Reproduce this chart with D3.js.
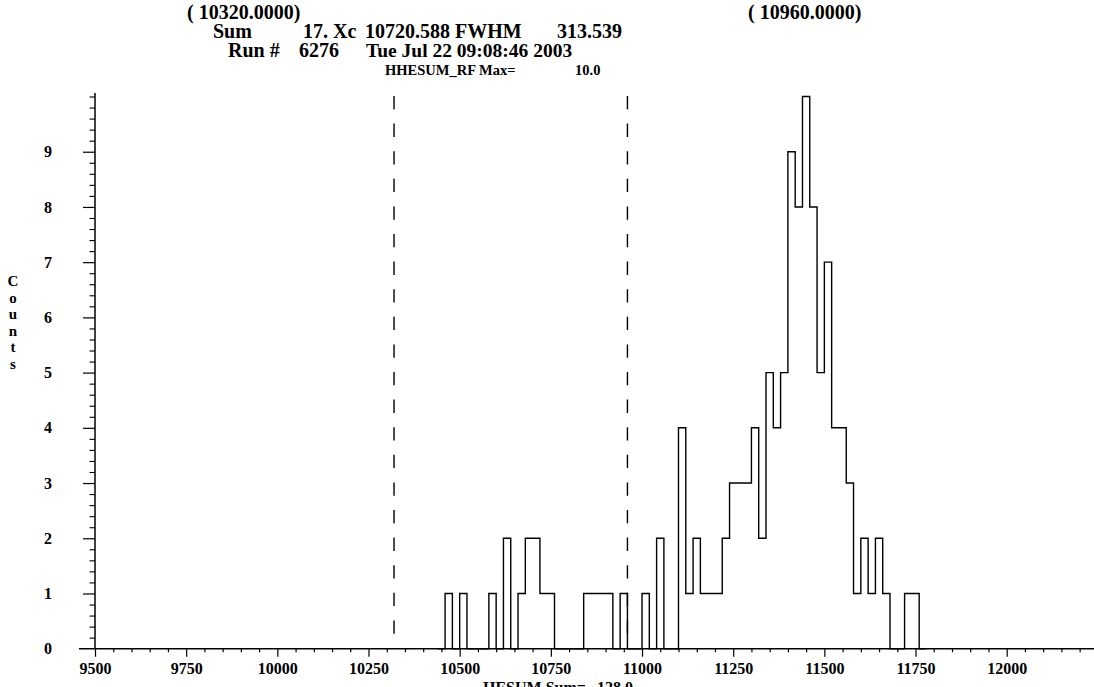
<!DOCTYPE html>
<html>
<head>
<meta charset="utf-8">
<script src="https://cdn.jsdelivr.net/npm/d3@7"></script>
<style>
  html, body { margin: 0; padding: 0; background: #fff; }
  svg { display: block; }
  text { font-family: "Liberation Serif", "Times New Roman", serif; fill: #000; }
</style>
</head>
<body>
<svg id="chart" width="1094" height="687"></svg>
<script>
// Histogram of HHESUM_RF, 20-unit bins (lower edge of each bin)
const binWidth = 20;
const binLow = [
  10440, 10460, 10480, 10500, 10520, 10540, 10560, 10580, 10600, 10620,
  10640, 10660, 10680, 10700, 10720, 10740, 10760, 10780, 10800, 10820,
  10840, 10860, 10880, 10900, 10920, 10940, 10960, 10980, 11000, 11020,
  11040, 11060, 11080, 11100, 11120, 11140, 11160, 11180, 11200, 11220,
  11240, 11260, 11280, 11300, 11320, 11340, 11360, 11380, 11400, 11420,
  11440, 11460, 11480, 11500, 11520, 11540, 11560, 11580, 11600, 11620,
  11640, 11660, 11680, 11700, 11720, 11740, 11760
];
const counts = [
  0, 1, 0, 1, 0, 0, 0, 1, 0, 2,
  0, 1, 2, 2, 1, 1, 0, 0, 0, 0,
  1, 1, 1, 1, 0, 1, 0, 0, 1, 0,
  2, 0, 0, 4, 1, 2, 1, 1, 1, 2,
  3, 3, 3, 4, 2, 5, 4, 5, 9, 8,
  10, 8, 5, 7, 4, 4, 3, 1, 2, 1,
  2, 1, 0, 0, 1, 1, 0
];

// Window markers
const windowEdges = [10320, 10960];

// Axis ticks
const xMajorTicks = [9500, 9750, 10000, 10250, 10500, 10750, 11000, 11250, 11500, 11750, 12000];
const yMajorTicks = [0, 1, 2, 3, 4, 5, 6, 7, 8, 9];

// Header values
const windowLabels = ["( 10320.0000)", "( 10960.0000)"];
const sumLabel = "17.";
const xcLabel = "10720.588";
const fwhmLabel = "313.539";
const runLabel = "6276";
const dateLabel = "Tue Jul 22 09:08:46 2003";
const maxLabel = "10.0";
const totalLabel = "128.0";

const svg = d3.select("#chart");

const x = d3.scaleLinear().domain([9500, 12000]).range([95, 1006.7]);
const y = d3.scaleLinear().domain([0, 10]).range([648.7, 96.5]);
const xAxisSpan = [x.invert(79), x.invert(1094)];

// ---- X axis ----
const minorX = d3.range(9500, 12250, 50).filter(v => v % 250 !== 0);
const xMinor = svg.append("g")
  .attr("transform", `translate(0,${y(0)})`)
  .call(d3.axisBottom(x).tickValues(minorX).tickSize(3.5).tickFormat(""));
const xMajor = svg.append("g")
  .attr("transform", `translate(0,${y(0)})`)
  .call(d3.axisBottom(x).tickValues(xMajorTicks).tickSize(8).tickPadding(6).tickFormat(d3.format("d")));
[xMinor, xMajor].forEach(g => g.select(".domain").remove());
xMajor.selectAll("text").attr("font-size", 16).attr("font-weight", "bold")
  .style("font-family", "'Liberation Serif', serif");
svg.selectAll("g line").attr("stroke", "#000").attr("stroke-width", 1.2);
svg.append("line")
  .attr("x1", x(xAxisSpan[0])).attr("x2", x(xAxisSpan[1]))
  .attr("y1", y(0)).attr("y2", y(0))
  .attr("stroke", "#000").attr("stroke-width", 1.5);

// ---- Y axis ----
const minorY = d3.range(1, 51).map(i => i / 5).filter(v => Math.abs(v - Math.round(v)) > 1e-6 || v === 10);
const yMinor = svg.append("g")
  .attr("transform", `translate(${x(9500)},0)`)
  .call(d3.axisLeft(y).tickValues(minorY).tickSize(5.5).tickFormat(""));
const yMajor = svg.append("g")
  .attr("transform", `translate(${x(9500)},0)`)
  .call(d3.axisLeft(y).tickValues(yMajorTicks.filter(v => v > 0)).tickSize(12).tickPadding(31).tickFormat(d3.format("d")));
[yMinor, yMajor].forEach(g => g.select(".domain").remove());
yMajor.selectAll("text").attr("font-size", 16).attr("font-weight", "bold")
  .style("font-family", "'Liberation Serif', serif");
yMinor.selectAll("line").attr("stroke", "#000").attr("stroke-width", 1.1);
yMajor.selectAll("line").attr("stroke", "#000").attr("stroke-width", 1.2);
svg.append("line")
  .attr("x1", x(9500)).attr("x2", x(9500))
  .attr("y1", y(0)).attr("y2", y(10) - 3.5)
  .attr("stroke", "#000").attr("stroke-width", 1.5);
// zero label sits level with the x axis line
svg.append("text")
  .attr("x", x(9500) - 43).attr("y", y(0)).attr("dy", "0.32em")
  .attr("text-anchor", "end").attr("font-size", 16).attr("font-weight", "bold")
  .text(yMajorTicks[0]);

// Vertical "Counts" title, one letter per line
const yTitle = "Counts".split("");
svg.append("g").selectAll("text").data(yTitle).join("text")
  .attr("x", 13).attr("y", (d, i) => 286 + i * 16.6)
  .attr("text-anchor", "middle").attr("font-size", 15).attr("font-weight", "bold")
  .text(d => d);

// ---- Histogram outline (step) ----
const stepPts = binLow.map((v, i) => [v, counts[i]]);
stepPts.push([binLow[binLow.length - 1] + binWidth, counts[counts.length - 1]]);
const stepLine = d3.line()
  .x(d => x(d[0])).y(d => y(d[1]))
  .curve(d3.curveStepAfter);
svg.append("path")
  .datum(stepPts)
  .attr("d", stepLine)
  .attr("fill", "none").attr("stroke", "#000").attr("stroke-width", 1.4);

// ---- Window markers ----
svg.append("g").selectAll("line").data(windowEdges).join("line")
  .attr("x1", d => x(d)).attr("x2", d => x(d))
  .attr("y1", y(10) - 0.5).attr("y2", y(0))
  .attr("stroke", "#000").attr("stroke-width", 1.4)
  .attr("stroke-dasharray", "13.3,14.3");

// ---- Header ----
const header = svg.append("g").attr("font-weight", "bold").attr("font-size", 20);
function put(g, tx, ty, str, opts = {}) {
  const t = g.append("text").attr("x", tx).attr("y", ty).text(str);
  if (opts.size) t.attr("font-size", opts.size);
  if (opts.weight) t.attr("font-weight", opts.weight);
  return t;
}
put(header, 187, 19, windowLabels[0]);
put(header, 748, 19, windowLabels[1]);
put(header, 213, 38, "Sum");
put(header, 303, 38, sumLabel + " Xc");
put(header, 365, 38, xcLabel + " FWHM");
put(header, 557, 38, fwhmLabel);
put(header, 228, 57, "Run #");
put(header, 299, 57, runLabel);
put(header, 366, 57, dateLabel).attr("font-size", 19.5);
put(header, 385, 75, "HHESUM_RF Max=", { size: 14.5 });
put(header, 575, 75, maxLabel, { size: 14.5 });

// ---- X axis title (partly below the frame) ----
put(header, 483, 693, "HESUM Sum=", { size: 16 });
put(header, 597, 693, totalLabel, { size: 16 });
</script>
</body>
</html>
